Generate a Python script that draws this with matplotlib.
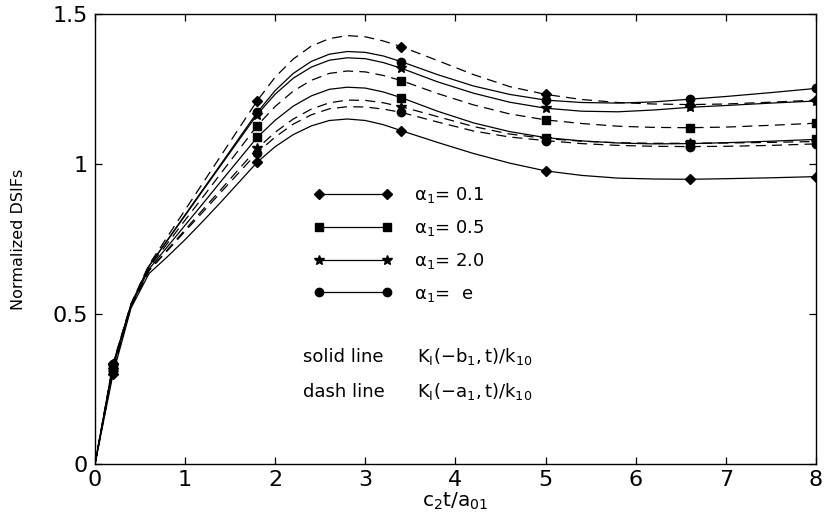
import matplotlib
matplotlib.use("Agg")
import matplotlib.pyplot as plt
from matplotlib.lines import Line2D

plt.rcParams['font.family'] = ['DejaVu Sans']
plt.rcParams['mathtext.default'] = 'regular'

# c2 t / a01 sample positions
t = [0, 0.2, 0.4, 0.6, 0.8, 1.0, 1.2, 1.4, 1.6, 1.8, 2.0, 2.2, 2.4, 2.6, 2.8,
     3.0, 3.2, 3.4, 3.8, 4.2, 4.6, 5.0, 5.4, 5.8, 6.2, 6.6, 7.0, 7.5, 8.0]
marker_t = [0.2, 1.8, 3.4, 5.0, 6.6, 8.0]

# solid line: K_I(-b1,t)/k10
solid_01 = [0, 0.300, 0.520, 0.635, 0.690, 0.748, 0.810, 0.874, 0.940, 1.006,
            1.058, 1.098, 1.127, 1.145, 1.150, 1.145, 1.131, 1.111, 1.072, 1.035,
            1.003, 0.977, 0.962, 0.953, 0.950, 0.949, 0.951, 0.954, 0.958]
solid_05 = [0, 0.320, 0.528, 0.650, 0.723, 0.796, 0.869, 0.943, 1.016, 1.089,
            1.146, 1.193, 1.227, 1.249, 1.256, 1.253, 1.240, 1.221, 1.176, 1.137,
            1.108, 1.088, 1.077, 1.070, 1.067, 1.068, 1.071, 1.076, 1.082]
solid_20 = [0, 0.330, 0.532, 0.660, 0.744, 0.828, 0.913, 0.997, 1.081, 1.165,
            1.233, 1.286, 1.323, 1.346, 1.354, 1.351, 1.338, 1.319, 1.274, 1.236,
            1.206, 1.186, 1.176, 1.174, 1.180, 1.189, 1.195, 1.203, 1.210]
solid_e = [0, 0.333, 0.532, 0.660, 0.745, 0.831, 0.916, 1.001, 1.087, 1.172,
           1.245, 1.302, 1.342, 1.366, 1.375, 1.372, 1.360, 1.341, 1.298, 1.260,
           1.232, 1.213, 1.205, 1.203, 1.207, 1.216, 1.225, 1.238, 1.252]

# dash line: K_I(-a1,t)/k10
dash_01 = [0, 0.335, 0.535, 0.665, 0.756, 0.847, 0.938, 1.029, 1.120, 1.211,
           1.290, 1.350, 1.393, 1.418, 1.428, 1.424, 1.410, 1.391, 1.345, 1.298,
           1.258, 1.232, 1.215, 1.205, 1.200, 1.198, 1.200, 1.206, 1.213]
dash_05 = [0, 0.325, 0.530, 0.655, 0.734, 0.813, 0.891, 0.970, 1.049, 1.128,
           1.192, 1.243, 1.279, 1.302, 1.310, 1.307, 1.295, 1.278, 1.235, 1.197,
           1.167, 1.147, 1.135, 1.126, 1.122, 1.121, 1.123, 1.129, 1.136]
dash_20 = [0, 0.315, 0.526, 0.645, 0.713, 0.781, 0.849, 0.916, 0.984, 1.052,
           1.106, 1.150, 1.183, 1.204, 1.213, 1.212, 1.204, 1.191, 1.158, 1.125,
           1.100, 1.085, 1.076, 1.071, 1.069, 1.069, 1.070, 1.072, 1.075]
dash_e = [0, 0.310, 0.525, 0.645, 0.710, 0.776, 0.841, 0.907, 0.972, 1.038,
          1.090, 1.133, 1.164, 1.184, 1.191, 1.190, 1.183, 1.172, 1.140, 1.110,
          1.090, 1.078, 1.068, 1.062, 1.059, 1.058, 1.059, 1.062, 1.067]

labels = [r'$\alpha_1$= 0.1', r'$\alpha_1$= 0.5', r'$\alpha_1$= 2.0', r'$\alpha_1$=  e']
markers = ['D', 's', '*', 'o']
msizes = [5.5, 5.5, 7.5, 6]
solid = [solid_01, solid_05, solid_20, solid_e]
dashed = [dash_01, dash_05, dash_20, dash_e]

every = [t.index(v) for v in marker_t]

fig = plt.figure(figsize=(8.25, 5.25), dpi=100)
ax = fig.add_axes([95/825, 61/525, 721/825, 450/525])

for ys, m, ms in zip(solid, markers, msizes):
    ax.plot(t, ys, color='k', lw=0.9, marker=m, ms=ms, markevery=every)
for ys, m, ms in zip(dashed, markers, msizes):
    ax.plot(t, ys, color='k', lw=0.9, dashes=(8, 5), marker=m, ms=ms,
            markevery=every)

ax.set_xlim(0, 8)
ax.set_ylim(0, 1.5)
ax.set_xticks(range(9))
ax.set_yticks([0, 0.5, 1, 1.5])
ax.set_yticklabels(['0', '0.5', '1', '1.5'])
ax.tick_params(direction='in', length=5, width=0.9, top=True, right=True,
               labelsize=16)
ax.tick_params(axis='y', pad=5)
ax.tick_params(axis='x', pad=4)
for s in ax.spines.values():
    s.set_linewidth(1.0)

ax.set_xlabel(r'$c_2t/a_{01}$', fontsize=14.5, labelpad=1)
ax.set_ylabel('Normalized DSIFs', fontsize=11.5, labelpad=19)

handles = [Line2D([], [], color='k', lw=0.9, marker=m, ms=ms)
           for m, ms in zip(markers, msizes)]
ax.legend(handles, labels, loc='upper left', bbox_to_anchor=(0.29, 0.64),
          frameon=False, numpoints=2, handlelength=4.4, handletextpad=1.2,
          labelspacing=0.73, fontsize=13, borderpad=0)

ax.text(0.2885, 0.238, 'solid line', transform=ax.transAxes, fontsize=13,
        va='center')
ax.text(0.4466, 0.238, r'$K_I(-b_1,t)/k_{10}$', transform=ax.transAxes,
        fontsize=13, va='center')
ax.text(0.2885, 0.16, 'dash line', transform=ax.transAxes, fontsize=13,
        va='center')
ax.text(0.4466, 0.16, r'$K_I(-a_1,t)/k_{10}$', transform=ax.transAxes,
        fontsize=13, va='center')

fig.savefig('out.png', dpi=100)
